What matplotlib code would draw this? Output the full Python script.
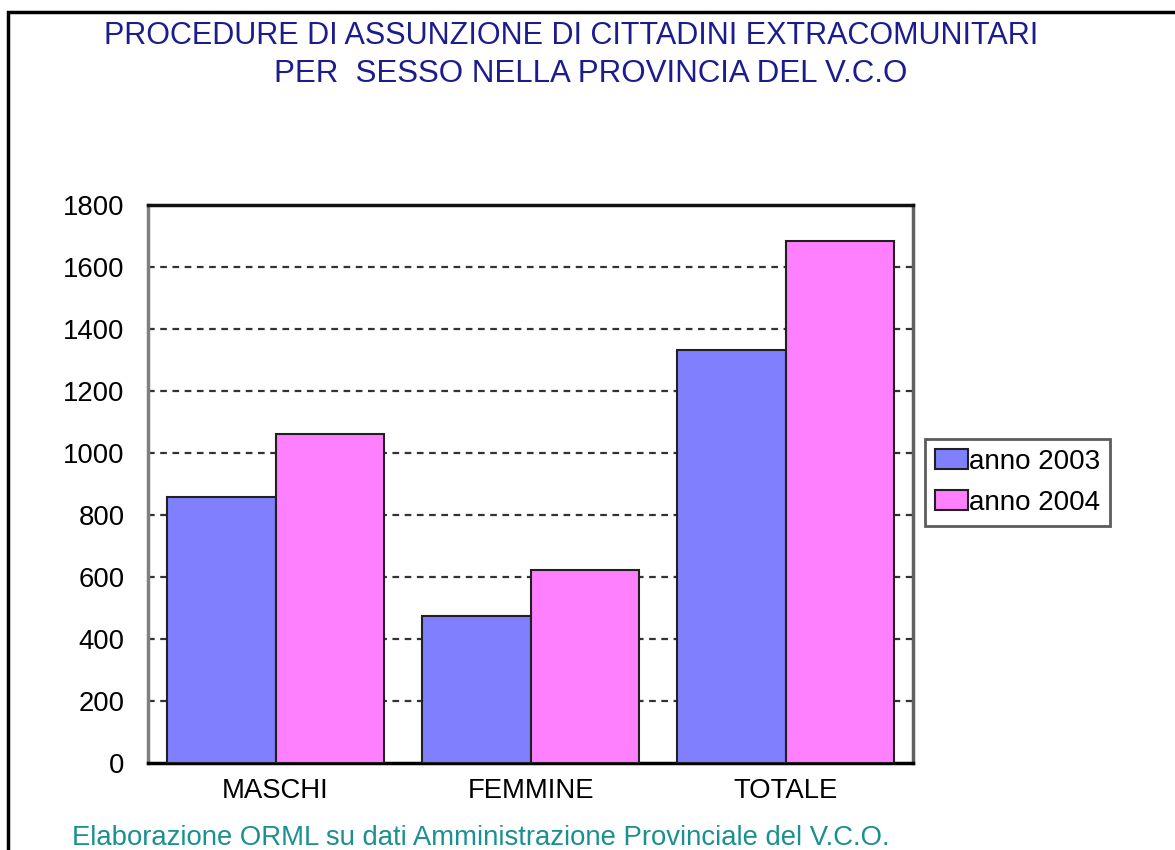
import numpy as np
import matplotlib.pyplot as plt
from matplotlib.patches import Rectangle

plt.rcParams['font.family'] = ['Liberation Sans', 'DejaVu Sans']

categorie = ['MASCHI', 'FEMMINE', 'TOTALE']
anno_2003 = [858, 474, 1332]
anno_2004 = [1062, 622, 1684]
serie = ['anno 2003', 'anno 2004']

fig = plt.figure(figsize=(11.75, 8.5), dpi=100)
ax = fig.add_axes([148/1175, 1-763/850, (913-148)/1175, (763-205)/850])

x = np.arange(len(categorie))
w = 0.425
ax.bar(x - w/2, anno_2003, w, color='#8080ff', edgecolor='#202020', linewidth=1.5, label=serie[0], zorder=3)
ax.bar(x + w/2, anno_2004, w, color='#ff80ff', edgecolor='#202020', linewidth=1.5, label=serie[1], zorder=3)

ax.set_xlim(-0.5, 2.5)
ax.set_ylim(0, 1800)
ax.set_yticks(range(0, 2000, 200))
ax.set_xticks(x)
ax.set_xticklabels(categorie)
ax.tick_params(axis='both', labelsize=19.8, length=0)
ax.tick_params(axis='y', pad=17)
ax.tick_params(axis='x', pad=11)
for y in range(200, 1800, 200):
    ax.axhline(y, color='#333333', linestyle=(0, (3, 2.5)), linewidth=1.6, zorder=1)

ax.spines['left'].set_color('#808080')
ax.spines['right'].set_color('#606060')
ax.spines['top'].set_color('#111111')
ax.spines['bottom'].set_color('#000000')
for s in ax.spines.values():
    s.set_linewidth(2.5)

leg = ax.legend(loc='upper left', bbox_to_anchor=(925/1175, 1-439/850), bbox_transform=fig.transFigure,
                fontsize=20, frameon=True, fancybox=False, edgecolor='#333333',
                handlelength=1.2, handleheight=0.75, handletextpad=0.05, borderpad=0.35,
                labelspacing=0.55, borderaxespad=0)
leg.get_frame().set_linewidth(2)

fig.text(571/1175, 1-36/850, 'PROCEDURE DI ASSUNZIONE DI CITTADINI EXTRACOMUNITARI',
         ha='center', va='center', fontsize=22, color='#1c1c8e')
fig.text(591/1175, 1-74/850, 'PER  SESSO NELLA PROVINCIA DEL V.C.O',
         ha='center', va='center', fontsize=22.5, color='#1c1c8e')
fig.text(72/1175, 1-838/850, 'Elaborazione ORML su dati Amministrazione Provinciale del V.C.O.',
         ha='left', va='center', fontsize=19.8, color='#1a9090')

fig.add_artist(Rectangle((8/1175, -0.1), 1.2, 1-12/850+0.1, transform=fig.transFigure,
                         fill=False, edgecolor='black', linewidth=2.5))

fig.savefig('out.png', dpi=100)
